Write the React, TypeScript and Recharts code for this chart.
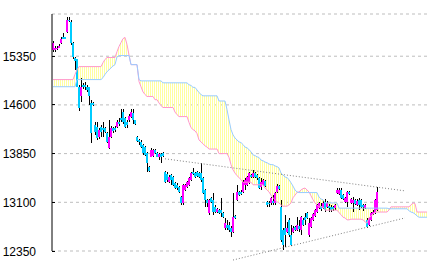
import React from 'react';
import {
  ComposedChart,
  Bar,
  Line,
  Area,
  XAxis,
  YAxis,
  CartesianGrid,
  ReferenceLine,
} from 'recharts';

// daily candles (index 0..162)
const opens = [
  15450, 15450, 15470, 15480, 15560, 15640, 15640, 15730, 15910, 15880,
  15560, 15330, 15300, 14880, 14730, 14900, 14900, 14870, 14870, 14630,
  14630, 14290, 14260, 14110, 14260, 14250, 14250, 14170, 13940, 14110,
  14250, 14250, 14260, 14340, 14400, 14490, 14400, 14340, 14370, 14420,
  14480, 14360, 14110, 14060, 14030, 13990, 13950, 13860, 13650, 13800,
  13820, 13910, 13860, 13790, 13850, 13860, 13570, 13540, 13410, 13520,
  13490, 13400, 13370, 13340, 13180, 13090, 13290, 13340, 13370, 13450,
  13570, 13550, 13570, 13550, 13550, 13480, 13290, 13140, 12940, 13170,
  13140, 13030, 12950, 12980, 12980, 12940, 12700, 12750, 12750, 12700,
  12640, 12890, 13140, 13260, 13260, 13260, 13370, 13370, 13400, 13520,
  13490, 13550, 13520, 13480, 13340, 13370, 13430, 13110, 13090, 13090,
  13120, 13090, 13260, 13350, 13030, 12670, 12700, 12640, 12830, 12600,
  12640, 12720, 12670, 12740, 12670, 12830, 12870, 12940, 12600, 12720,
  12830, 12890, 12950, 13010, 13040, 13010, 13110, 13030, 13040, 13030,
  13030, 13010, 13250, 13230, 13290, 13210, 13110, 13110, 13260, 13090,
  13090, 13140, 13060, 13140, 13140, 13060, 13010, 12830, 12750, 12830,
  12920, 12940, 12980,
];
const highs = [
  15590, 15500, 15500, 15540, 15650, 15710, 15650, 15950, 15960, 15910,
  15570, 15340, 15310, 14900, 15020, 14930, 14960, 14900, 14880, 14680,
  14650, 14340, 14330, 14250, 14290, 14340, 14260, 14190, 14370, 14280,
  14260, 14280, 14360, 14400, 14530, 14530, 14420, 14370, 14460, 14530,
  14530, 14370, 14120, 14080, 14060, 14000, 13970, 13880, 13660, 13940,
  13920, 13920, 13880, 13860, 13860, 13880, 13580, 13570, 13520, 13540,
  13510, 13410, 13400, 13350, 13200, 13380, 13380, 13430, 13490, 13570,
  13630, 13570, 13580, 13570, 13710, 13490, 13310, 13150, 13150, 13180,
  13250, 13060, 13010, 13000, 13170, 12950, 12860, 12830, 12800, 12740,
  13250, 12910, 13370, 13280, 13290, 13450, 13480, 13510, 13570, 13540,
  13600, 13570, 13540, 13490, 13480, 13460, 13450, 13120, 13120, 13180,
  13210, 13260, 13380, 13370, 13140, 12700, 12910, 12800, 12860, 12750,
  12740, 12740, 12870, 12830, 12890, 12860, 12940, 12950, 12860, 12870,
  12940, 13000, 13080, 13110, 13090, 13140, 13150, 13120, 13080, 13060,
  13040, 13080, 13320, 13320, 13320, 13230, 13180, 13280, 13280, 13170,
  13180, 13150, 13150, 13170, 13150, 13080, 13080, 12860, 12870, 12950,
  12980, 13150, 13340,
];
const lows = [
  15420, 15420, 15450, 15470, 15540, 15610, 15610, 15710, 15880, 15530,
  15300, 15140, 14870, 14510, 14650, 14850, 14830, 14800, 14600, 14020,
  14590, 14140, 14060, 14080, 14110, 14110, 14160, 14020, 13920, 14090,
  14170, 14190, 14250, 14280, 14340, 14310, 14250, 14250, 14340, 14400,
  14310, 14290, 14030, 13990, 13940, 13830, 13820, 13570, 13570, 13790,
  13800, 13850, 13790, 13750, 13710, 13800, 13400, 13410, 13400, 13370,
  13350, 13310, 13290, 13250, 13060, 13060, 13280, 13320, 13350, 13430,
  13520, 13480, 13490, 13480, 13410, 13230, 13030, 13030, 12910, 13090,
  12910, 12940, 12940, 12920, 12870, 12860, 12670, 12670, 12640, 12570,
  12630, 12840, 13120, 13200, 13210, 13250, 13290, 13350, 13380, 13480,
  13480, 13480, 13450, 13310, 13290, 13350, 13340, 13030, 13030, 13060,
  13060, 13060, 13250, 13290, 12490, 12370, 12410, 12630, 12570, 12430,
  12630, 12660, 12660, 12640, 12600, 12740, 12750, 12840, 12570, 12700,
  12810, 12870, 12940, 13000, 12970, 13000, 12950, 13010, 12950, 12950,
  12970, 12980, 13230, 13210, 13150, 13140, 13090, 13030, 13210, 13080,
  12950, 13060, 13040, 12980, 13010, 12970, 13000, 12700, 12740, 12810,
  12910, 12920, 12970,
];
const closes = [
  15560, 15470, 15480, 15510, 15620, 15620, 15620, 15910, 15900, 15560,
  15340, 15270, 14880, 14560, 14880, 14870, 14870, 14830, 14730, 14170,
  14600, 14190, 14090, 14220, 14190, 14220, 14190, 14030, 14110, 14250,
  14200, 14220, 14340, 14310, 14360, 14340, 14260, 14290, 14430, 14490,
  14370, 14310, 14050, 14030, 13950, 13860, 13830, 13710, 13580, 13910,
  13910, 13860, 13800, 13850, 13790, 13820, 13410, 13450, 13490, 13450,
  13370, 13320, 13320, 13260, 13090, 13370, 13370, 13410, 13480, 13550,
  13540, 13490, 13510, 13490, 13450, 13250, 13140, 13090, 13140, 13110,
  12950, 12950, 13000, 12940, 12940, 12870, 12780, 12700, 12670, 12640,
  12870, 12860, 13260, 13210, 13230, 13410, 13450, 13490, 13550, 13490,
  13550, 13490, 13480, 13320, 13410, 13450, 13350, 13060, 13080, 13170,
  13090, 13250, 13350, 13310, 12520, 12440, 12600, 12700, 12600, 12440,
  12700, 12670, 12750, 12690, 12870, 12750, 12830, 12860, 12780, 12860,
  12920, 12980, 13060, 13090, 13000, 13090, 12980, 13090, 13010, 12980,
  13000, 13060, 13290, 13290, 13170, 13150, 13170, 13260, 13230, 13150,
  13140, 13080, 13120, 13060, 13030, 13030, 13060, 12720, 12860, 12940,
  12950, 13140, 13260,
];

// leading spans, drawn 26 bars ahead (index 0..187)
const spanA = [
  14880, 14880, 14880, 14880, 14880, 14880, 14880, 14880, 14880, 14880,
  14880, 14880, 14990, 14990, 14990, 14990, 14990, 14990, 14990, 14990,
  14990, 14990, 14990, 14990, 14990, 15020, 15070, 15110, 15140, 15170,
  15200, 15220, 15340, 15360, 15360, 15360, 15360, 15360, 15360, 15220,
  15220, 15220, 15220, 14990, 14970, 14970, 14970, 14970, 14970, 14970,
  14970, 14970, 14970, 14970, 14970, 14940, 14940, 14940, 14940, 14940,
  14940, 14940, 14940, 14940, 14940, 14940, 14940, 14940, 14910, 14900,
  14870, 14870, 14830, 14790, 14760, 14740, 14740, 14740, 14740, 14740,
  14740, 14740, 14740, 14660, 14660, 14660, 14660, 14530, 14370, 14220,
  14140, 14090, 14060, 14030, 14020, 13990, 13950, 13940, 13910, 13880,
  13830, 13820, 13800, 13790, 13750, 13740, 13720, 13710, 13690, 13680,
  13680, 13660, 13650, 13630, 13550, 13520, 13490, 13480, 13450, 13400,
  13350, 13290, 13260, 13250, 13250, 13250, 13250, 13250, 13250, 13250,
  13250, 13250, 13250, 13180, 13150, 13140, 13090, 13090, 13090, 13090,
  13090, 13090, 13090, 13010, 13010, 13010, 13010, 13010, 13010, 13010,
  13010, 13010, 13010, 13010, 13010, 13010, 13010, 13010, 13010, 13010,
  13010, 13010, 13010, 13010, 13010, 13010, 13010, 13010, 13000, 13000,
  13000, 13000, 13000, 13000, 13000, 13000, 13000, 13000, 12970, 12950,
  12940, 12920, 12890, 12870, 12870, 12870, 12870, 12870,
];
const spanB = [
  14990, 14990, 14990, 14990, 14990, 14990, 14990, 14990, 14990, 14990,
  14990, 15070, 15140, 15190, 15190, 15190, 15190, 15190, 15190, 15190,
  15190, 15190, 15190, 15190, 15190, 15250, 15300, 15330, 15330, 15330,
  15330, 15330, 15420, 15500, 15560, 15620, 15640, 15530, 15370, 15220,
  15220, 15220, 15220, 14960, 14880, 14800, 14760, 14730, 14730, 14730,
  14730, 14680, 14680, 14630, 14590, 14560, 14560, 14560, 14560, 14560,
  14560, 14490, 14450, 14420, 14420, 14420, 14420, 14420, 14330, 14250,
  14220, 14200, 14160, 14060, 14030, 14000, 13970, 13950, 13920, 13920,
  13920, 13920, 13920, 13850, 13850, 13850, 13850, 13850, 13790, 13680,
  13600, 13550, 13510, 13480, 13450, 13410, 13410, 13410, 13410, 13410,
  13370, 13370, 13370, 13370, 13370, 13370, 13320, 13290, 13260, 13210,
  13170, 13140, 13110, 13090, 13060, 13040, 13040, 13040, 13060, 13090,
  13170, 13210, 13250, 13260, 13290, 13310, 13320, 13290, 13260, 13200,
  13140, 13090, 13060, 13030, 13030, 13030, 12980, 12980, 12980, 12980,
  12980, 12980, 12980, 12940, 12910, 12870, 12860, 12830, 12830, 12840,
  12840, 12840, 12840, 12840, 12840, 12830, 12800, 12780, 12860, 12890,
  12910, 12950, 12950, 12950, 12950, 12950, 12950, 12950, 12980, 13030,
  13030, 13030, 13030, 13030, 13030, 13030, 13030, 13030, 13030, 13060,
  13090, 13080, 12950, 12950, 12950, 12950, 12950, 12950,
];

const yTicks = [12350, 13100, 13850, 14600, 15350];
const upperTrend = [
  { x: 56, y: 13770 },
  { x: 176, y: 13276 },
];
const lowerTrend = [
  { x: 90, y: 12211 },
  { x: 176, y: 12859 },
];

const SLOTS = 189;
const rows = Array.from({ length: SLOTS }, (_, i) => ({
  idx: i,
  o: opens[i],
  h: highs[i],
  l: lows[i],
  c: closes[i],
  range: i < opens.length ? [lows[i], highs[i]] : null,
  spanA: spanA[i] ?? null,
  spanB: spanB[i] ?? null,
  cloud: i < spanA.length ? [Math.min(spanA[i], spanB[i]), Math.max(spanA[i], spanB[i])] : null,
}));

const Candle = (props: any) => {
  const { x, y, width, height, payload } = props;
  if (!payload || payload.o == null || height == null) return null;
  const { o, h, l, c } = payload;
  const top = Math.min(y, y + height);
  const bot = Math.max(y, y + height);
  const px = (v: number) => (h === l ? top : top + ((h - v) / (h - l)) * (bot - top));
  const left = Math.round(x + width / 2 - 1);
  const bTop = Math.round(px(Math.max(o, c)));
  const bBot = Math.max(Math.round(px(Math.min(o, c))), bTop + 1);
  return (
    <g shapeRendering="crispEdges">
      <rect x={left + 1} y={Math.round(top)} width={1} height={Math.max(1, Math.round(bot) - Math.round(top))} fill="#000" />
      <rect x={left} y={bTop} width={2} height={bBot - bTop} fill={c >= o ? '#ff00ff' : '#00ccff'} />
    </g>
  );
};

const YTick = ({ x, y, payload }: any) => (
  <g>
    <line x1={x} x2={x + 3} y1={y} y2={y} stroke="#000" shapeRendering="crispEdges" />
    <text
      x={x - 16}
      y={y}
      dy={4.5}
      textAnchor="end"
      fontSize={12}
      fill="#000"
      fontFamily="'Liberation Sans', Arial, sans-serif"
    >
      {payload.value}
    </text>
  </g>
);

export default function App() {
  return (
    <div style={{ position: 'absolute', left: 0, top: 0, width: 432, height: 265, background: '#fff' }}>
      <ComposedChart
        width={432}
        height={265}
        data={rows}
        margin={{ top: 14, right: 2, bottom: 14, left: 0 }}
        barCategoryGap={0}
        barGap={0}
      >
        <defs>
          <pattern id="hatch" x="0" y="0" width="2" height="4" patternUnits="userSpaceOnUse">
            <rect x="0" y="0" width="1" height="4" fill="#ffffa0" />
          </pattern>
        </defs>
        <CartesianGrid vertical={false} stroke="#bdbdbd" strokeDasharray="3 3" />
        <XAxis dataKey="idx" type="category" hide />
        <YAxis
          domain={[12350, 16000]}
          ticks={yTicks}
          interval={0}
          width={52}
          tickSize={0}
          tickMargin={0}
          axisLine={{ stroke: '#000' }}
          tickLine={false}
          tick={<YTick />}
        />
        <Area
          dataKey="cloud"
          fill="url(#hatch)"
          fillOpacity={1}
          stroke="none"
          isAnimationActive={false}
          type="linear"
        />
        <Line dataKey="spanB" stroke="#ff99cc" strokeWidth={1} dot={false} isAnimationActive={false} type="linear" />
        <Line dataKey="spanA" stroke="#99ccff" strokeWidth={1} dot={false} isAnimationActive={false} type="linear" />
        <ReferenceLine segment={upperTrend} stroke="#808080" strokeDasharray="1 2" ifOverflow="visible" />
        <ReferenceLine segment={lowerTrend} stroke="#808080" strokeDasharray="1 2" ifOverflow="visible" />
        <Bar dataKey="range" shape={<Candle />} isAnimationActive={false} />
      </ComposedChart>
    </div>
  );
}
